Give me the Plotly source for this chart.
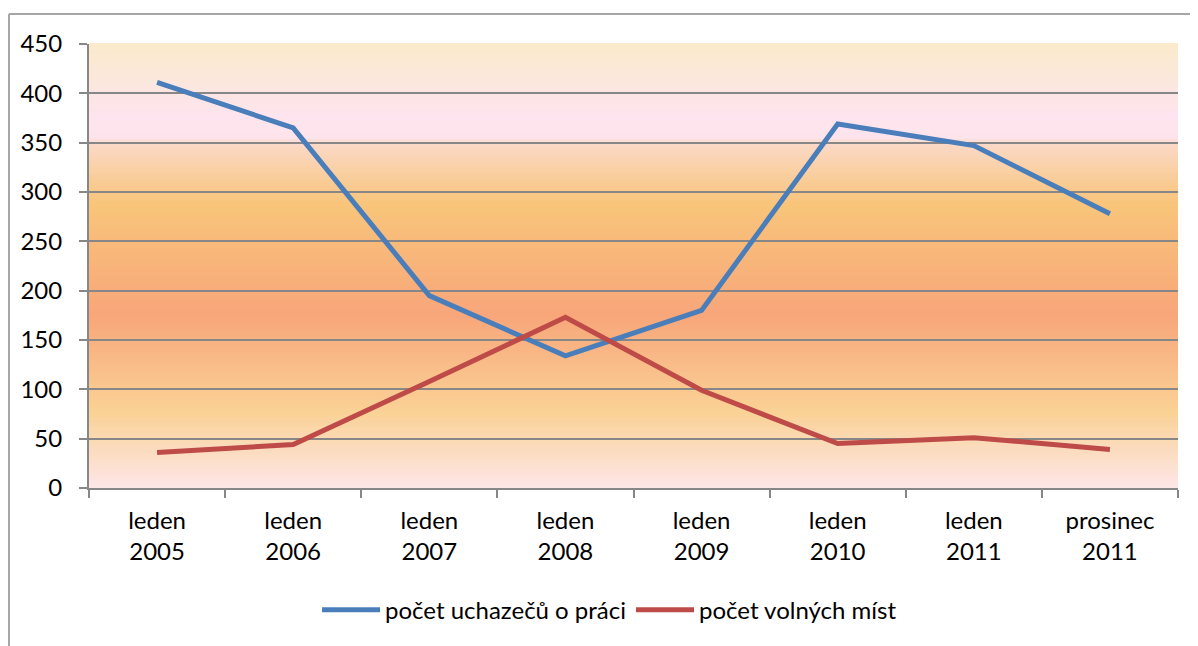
import plotly.graph_objects as go

categories = ["leden<br>2005", "leden<br>2006", "leden<br>2007", "leden<br>2008",
              "leden<br>2009", "leden<br>2010", "leden<br>2011", "prosinec<br>2011"]
uchazeci = [411, 365, 195, 134, 180, 369, 347, 278]
volna_mista = [36, 44, 108, 173, 99, 45, 51, 39]

# background gradient stops (fraction from bottom, rgb)
grad_stops = [
    (0.00, (253, 230, 232)),
    (0.17, (250, 210, 150)),
    (0.39, (248, 166, 122)),
    (0.64, (248, 197, 122)),
    (0.775, (251, 217, 198)),
    (0.79, (253, 228, 236)),
    (0.84, (253, 228, 238)),
    (1.00, (251, 234, 203)),
]


def grad_color(f):
    for (f0, c0), (f1, c1) in zip(grad_stops[:-1], grad_stops[1:]):
        if f0 <= f <= f1:
            t = (f - f0) / (f1 - f0) if f1 > f0 else 0
            c = [round(a + (b - a) * t) for a, b in zip(c0, c1)]
            return "rgb(%d,%d,%d)" % tuple(c)
    return "rgb(%d,%d,%d)" % grad_stops[-1][1]


shapes = []
n = 150
for i in range(n):
    y0 = i / n
    y1 = (i + 1) / n
    shapes.append(dict(type="rect", xref="x domain", yref="y domain",
                       x0=0, x1=1, y0=y0, y1=y1 + 0.002, layer="below",
                       line=dict(width=0), fillcolor=grad_color((y0 + y1) / 2)))

# outer chart border (left and top); page body has an 8px margin
W, H = 1190, 638
ML, MR, MT, MB = 81, 20, 36, 158
pw, ph = W - ML - MR, H - MT - MB
bx = (1 - ML) / pw
by = 1 + (MT - 6) / ph
shapes.append(dict(type="line", xref="paper", yref="paper", x0=bx, x1=bx,
                   y0=by, y1=-0.5, line=dict(color="#A6A6A6", width=2)))
shapes.append(dict(type="line", xref="paper", yref="paper", x0=bx, x1=1.1,
                   y0=by, y1=by, line=dict(color="#A6A6A6", width=2)))

fig = go.Figure()
fig.add_trace(go.Scatter(x=categories, y=uchazeci, mode="lines",
                         name="počet uchazečů o práci",
                         line=dict(color="#4A7EBB", width=5)))
fig.add_trace(go.Scatter(x=categories, y=volna_mista, mode="lines",
                         name="počet volných míst",
                         line=dict(color="#BE4B48", width=5)))

fig.update_layout(
    width=W, height=H,
    margin=dict(l=ML, r=MR, t=MT, b=MB),
    paper_bgcolor="white",
    plot_bgcolor="white",
    font=dict(family="Lato, Open Sans, sans-serif", size=24, color="black"),
    shapes=shapes,
    showlegend=True,
    legend=dict(orientation="h", x=0.478, xanchor="center", y=-0.275, yanchor="middle",
                font=dict(size=24), itemwidth=58, tracegroupgap=0),
)
fig.update_xaxes(
    type="category", showline=True, linecolor="#878787", linewidth=2,
    ticks="outside", tickson="boundaries", ticklen=8, tickcolor="#878787",
    tickwidth=2, showgrid=False, range=[-0.5, 7.5], fixedrange=True,
    ticklabelstandoff=10,
)
fig.update_yaxes(
    range=[0, 450], dtick=50, showline=True, linecolor="#878787", linewidth=2,
    ticks="outside", ticklen=8, tickcolor="#878787", tickwidth=2,
    showgrid=True, gridcolor="#878787", gridwidth=2, zeroline=False,
    fixedrange=True, ticklabelstandoff=12,
)

fig.write_html("out.html")
